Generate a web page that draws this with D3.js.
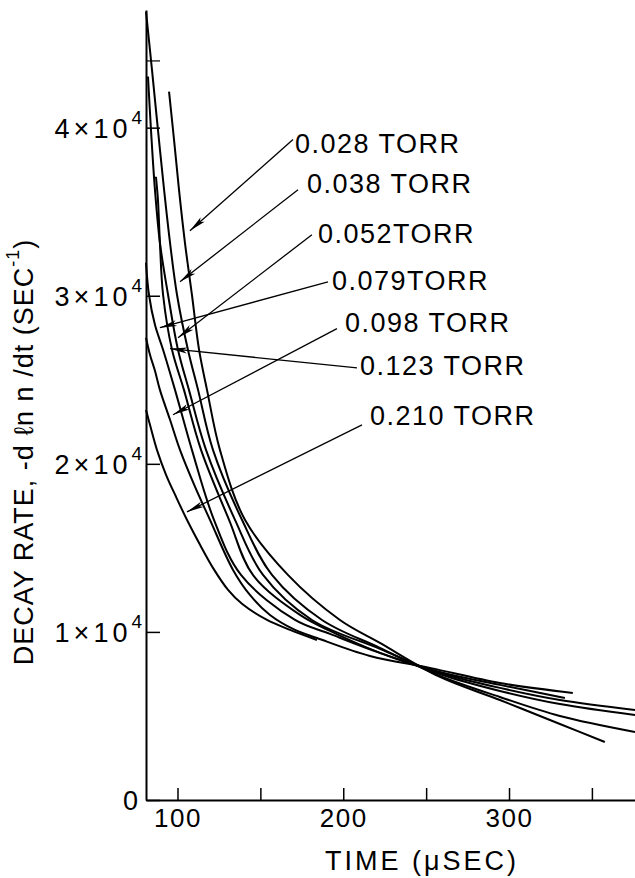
<!DOCTYPE html>
<html><head><meta charset="utf-8">
<script src="https://cdn.jsdelivr.net/npm/d3@7"></script>
<style>body{margin:0;background:#fff}</style>
</head><body>
<svg id="c" width="635" height="878"></svg>
<script>
// ---- data (time in µs, decay rate in s^-1) ----
const pressures = ["0.028 TORR","0.038 TORR","0.052TORR","0.079TORR","0.098 TORR","0.123 TORR","0.210 TORR"];

const curve028 = [[94.9,42140],[97.9,39290],[100.9,36310],[104.5,33150],[108.7,30060],[113.0,26790],[117.8,24400],[125.6,20830],[140.7,16670],[166.6,13390],[198.0,10710],[222.1,9345],[258.3,7320],[294.5,5950],[330.7,4520],[357.8,3450]];
const curve038 = [[81.0,46900],[84.6,43450],[88.2,39880],[91.9,36310],[95.5,33150],[99.7,30060],[106.3,26790],[112.4,24400],[121.4,20830],[138.9,16670],[157.0,13390],[187.2,10710],[222.1,9050],[258.3,7380],[294.5,6130],[330.7,5000],[376,4050]];
const curve052 = [[82.2,43040],[84.0,39880],[86.4,36310],[89.4,33150],[94.3,30060],[100.3,26790],[106.9,24400],[117.2,20830],[134.7,16670],[151.6,13390],[181.1,10710],[222.1,8990],[258.3,7500],[294.5,6490],[330.7,5710],[376,5060]];
const curve079 = [[87.0,37080],[88.2,35710],[89.4,33150],[91.3,30060],[96.7,26790],[103.9,24400],[114.2,20830],[131.1,16670],[145.5,13390],[173.9,11010],[192.0,10060],[222.1,8750],[258.3,7560],[294.5,6670],[330.7,5950],[376,5360]];
const curve098 = [[81.0,31960],[82.8,30060],[86.4,28270],[91.3,26790],[98.5,24400],[108.7,20830],[122.0,16670],[138.3,13390],[170.9,10710],[192.0,9880],[222.1,8750],[258.3,7620],[294.5,6850],[333.7,6070]];
const curve123 = [[81.0,27500],[83.4,26490],[86.4,25540],[89.4,24400],[95.5,22620],[101.5,20830],[110.6,18630],[119.6,16670],[133.5,13690],[143.7,12200],[155.8,11010],[170.9,10120],[184.1,9640],[216.1,8570],[252.3,7860],[294.5,6960],[338.5,6370]];
const curve210 = [[81.0,23210],[83.4,22320],[87.6,20830],[93.1,19350],[99.1,18040],[105.7,16670],[113.6,15180],[121.4,13810],[130.5,12500],[138.9,11670],[154.0,10710],[167.9,10120],[184.1,9520]];
const curves = [curve028, curve038, curve052, curve079, curve098, curve123, curve210];

// label anchors (left/baseline), leader start and arrow tip, in data units
const labelAt    = [[170.9,38510],[178.1,36130],[184.7,33150],[193.2,30360],[201.0,27860],[210.1,25300],[216.1,22320]];
const leaderFrom = [[169.7,39290],[172.7,36310],[181.1,33630],[190.8,30830],[196.2,28040],[208.3,25710],[211.3,22320]];
const arrowTo    = [[107.5,33870],[101.5,30830],[100.3,27500],[89.4,28100],[97.3,22920],[95.5,26850],[105.7,17140]];

const xTicks = [100,150,200,250,300,350];
const xTickLabels = ["100","","200","","300",""];
const yTicks = [0,10000,20000,30000,40000];
const yTickMantissa = ["0","1×10","2×10","3×10","4×10"];
const yTickExponent = ["","4","4","4","4"];
const yMinorTicks = [44000];

// ---- drawing ----
const svg = d3.select("#c");
const FONT = "Liberation Sans, Arial, sans-serif";
const x = d3.scaleLinear().domain([81, 376]).range([146, 635]);
const y = d3.scaleLinear().domain([0, 47000]).range([800, 10]);

svg.append("defs").append("marker")
  .attr("id","ah").attr("viewBox","-18 -4 20 8").attr("refX",0).attr("refY",0)
  .attr("markerWidth",20).attr("markerHeight",8).attr("markerUnits","userSpaceOnUse")
  .attr("orient","auto")
  .append("path").attr("d","M0,0 L-17,-3 L-13,0 L-17,3 Z").attr("fill","#000");

// x axis
const gx = svg.append("g").attr("transform","translate(0,800)")
  .call(d3.axisBottom(x).tickValues(xTicks).tickSize(-12).tickSizeOuter(0).tickPadding(9)
    .tickFormat((d,i)=>xTickLabels[i]));
gx.select(".domain").attr("stroke-width",2);
gx.selectAll(".tick line").attr("stroke-width",1.5);
gx.selectAll(".tick text").attr("font-family",FONT).attr("font-size",26).attr("letter-spacing",1.5).attr("fill","#000");

// y axis
const gy = svg.append("g").attr("transform","translate(146,0)")
  .call(d3.axisLeft(y).tickValues(yTicks).tickSize(-14).tickSizeOuter(0).tickPadding(4).tickFormat(""));
gy.select(".domain").attr("stroke-width",2);
gy.selectAll(".tick line").attr("stroke-width",1.5);
gy.selectAll(".tick").each(function(d,i){
  const t = d3.select(this).select("text")
    .attr("font-family",FONT).attr("font-size",27).attr("fill","#000").attr("dy","0.36em");
  t.text(null);
  t.append("tspan").attr("letter-spacing",4).text(yTickMantissa[i]);
  if (yTickExponent[i]) t.append("tspan").attr("font-size",19).attr("dy","-0.75em").text(yTickExponent[i]);
});
svg.append("g").attr("transform","translate(146,0)")
  .call(d3.axisLeft(y).tickValues(yMinorTicks).tickSize(-14).tickFormat(""))
  .call(g=>{g.select(".domain").remove(); g.selectAll("line").attr("stroke-width",1.2);});

// curves
const line = d3.line().x(d=>x(d[0])).y(d=>y(d[1])).curve(d3.curveCatmullRom.alpha(0.5));
svg.append("g").selectAll("path").data(curves).join("path")
  .attr("d",line).attr("fill","none").attr("stroke","#000").attr("stroke-width",2);

// leaders and labels
svg.append("g").selectAll("line").data(pressures).join("line")
  .attr("x1",(d,i)=>x(leaderFrom[i][0])).attr("y1",(d,i)=>y(leaderFrom[i][1]))
  .attr("x2",(d,i)=>x(arrowTo[i][0])).attr("y2",(d,i)=>y(arrowTo[i][1]))
  .attr("stroke","#000").attr("stroke-width",1.3).attr("marker-end","url(#ah)");
svg.append("g").selectAll("text").data(pressures).join("text")
  .attr("x",(d,i)=>x(labelAt[i][0])).attr("y",(d,i)=>y(labelAt[i][1]))
  .attr("font-family",FONT).attr("font-size",27).attr("letter-spacing",1.5)
  .text(d=>d);

// axis titles
svg.append("text").attr("x",422).attr("y",870).attr("text-anchor","middle")
  .attr("font-family",FONT).attr("font-size",27).attr("letter-spacing",3)
  .text("TIME (μSEC)");
const yt = svg.append("text").attr("transform","translate(33,452) rotate(-90)").attr("text-anchor","middle")
  .attr("font-family",FONT).attr("font-size",27).attr("letter-spacing",1);
yt.append("tspan").text("DECAY RATE, -d ℓn n /dt (SEC");
yt.append("tspan").attr("font-size",18).attr("dy","-0.8em").text("-1");
yt.append("tspan").attr("dy","0.55em").text(")");
</script>
</body></html>
